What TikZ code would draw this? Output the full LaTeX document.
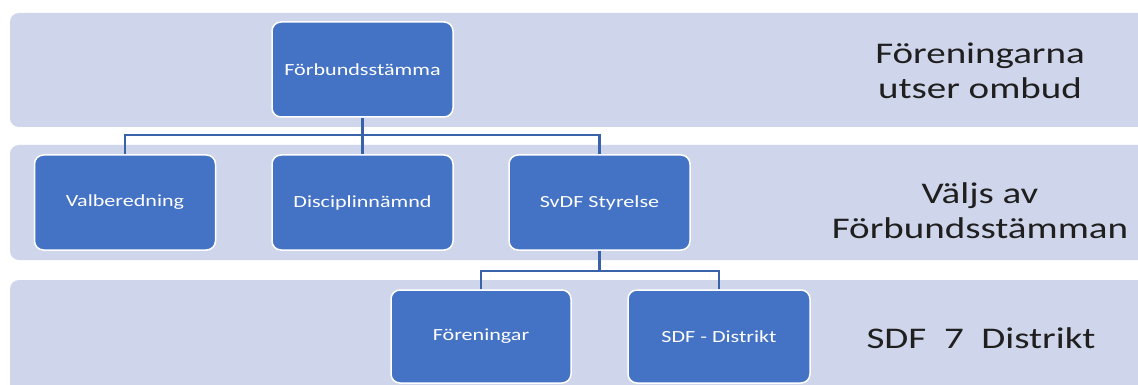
\documentclass[tikz,border=0pt]{standalone}
\usepackage{fontspec}
\setmainfont{Carlito}[FakeStretch=1.3]
\definecolor{bandc}{HTML}{CFD5EA}
\definecolor{boxc}{HTML}{4472C4}
\definecolor{linec}{HTML}{3A62A8}
\begin{document}
\begin{tikzpicture}[x=1pt,y=-1pt,
  band/.style={fill=bandc, rounded corners=9pt},
  orgbox/.style={fill=boxc, draw=white, line width=1.5pt, rounded corners=9pt,
    minimum width=181pt, minimum height=95pt, text=white,
    font=\fontsize{17}{20}\selectfont},
  conn/.style={draw=linec, line width=2.5pt},
  side/.style={align=center, text=black!88, font=\fontsize{30}{35}\selectfont}]
\useasboundingbox (0,0) rectangle (1138,385);
\clip (0,0) rectangle (1138,385);
\fill[white] (0,0) rectangle (1138,385);
\path[band] (10,13) rectangle (1160,127);
\path[band] (10,145) rectangle (1160,260);
\path[band] (10,280) rectangle (1160,400);

\node[orgbox] (fs) at (362.5,69.5) {Förbundsstämma};
\node[orgbox] (vb) at (125,202.5) {Valberedning};
\node[orgbox] (dn) at (362.5,202.5) {Disciplinnämnd};
\node[orgbox] (sv) at (599.5,202.5) {SvDF Styrelse};
\node[orgbox, minimum width=180pt, minimum height=93pt] (fo) at (481,336.5) {Föreningar};
\node[orgbox, minimum width=182pt, minimum height=93pt] (sd) at (719,336.5) {SDF - Distrikt};

\coordinate (bus1) at (362.5,135);
\coordinate (bus2) at (599.5,271);
\draw[conn] (fs.south) -- (dn.north);
\draw[conn] (vb.north) |- (bus1) -| (sv.north);
\draw[conn] (sv.south) -- (bus2);
\draw[conn] (fo.north) |- (bus2) -| (sd.north);

\node[side] (t1) at (980,71) {Föreningarna\\utser ombud};
\node[side] (t2) at (980,211) {Väljs av\\Förbundsstämman};
\node[side] (t3) at (981,338) {SDF\ \ 7\ \ Distrikt};
\end{tikzpicture}
\end{document}
